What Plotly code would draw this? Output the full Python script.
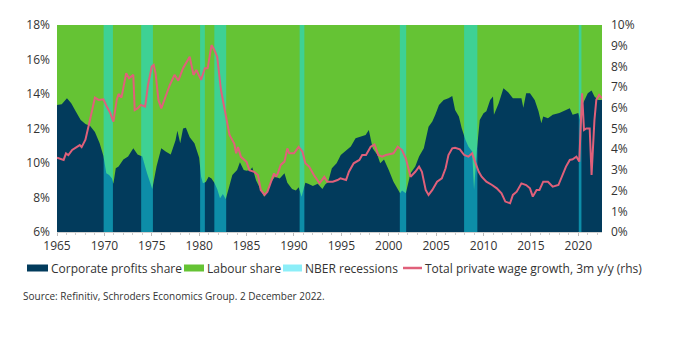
import plotly.graph_objects as go

# Corporate profits share of GDP (%, lhs), by decimal year
profit_dates = [1965.0, 1965.5, 1966.05, 1966.5, 1967.0, 1967.5, 1968.0, 1968.5, 1969.0, 1969.5,
                1969.9, 1970.2, 1970.5, 1970.8, 1970.95, 1971.2, 1971.5, 1972.0, 1972.5, 1973.05,
                1973.5, 1974.0, 1974.5, 1975.05, 1975.5, 1976.0, 1976.5, 1977.0, 1977.5, 1977.7,
                1978.0, 1978.3, 1978.6, 1979.0, 1979.5, 1980.0, 1980.2, 1980.4, 1980.7, 1981.0,
                1981.3, 1981.6, 1981.9, 1982.2, 1982.5, 1982.8, 1983.2, 1983.5, 1984.0, 1984.3,
                1984.7, 1985.0, 1985.4, 1985.6, 1986.0, 1986.5, 1986.85, 1987.2, 1987.6, 1988.0,
                1988.5, 1989.0, 1989.3, 1989.8, 1990.2, 1990.5, 1990.8, 1991.2, 1991.5, 1992.0,
                1992.5, 1993.0, 1993.3, 1993.6, 1994.0, 1994.5, 1994.94, 1996.0, 1996.5, 1997.56,
                1997.9, 1998.3, 1998.8, 1999.1, 1999.5, 2000.0, 2000.5, 2001.2, 2001.4, 2001.8,
                2002.3, 2002.8, 2003.2, 2003.7, 2004.2, 2004.6, 2004.9, 2005.3, 2005.8, 2006.3,
                2006.7, 2007.0, 2007.4, 2007.7, 2008.1, 2008.4, 2008.8, 2009.0, 2009.3, 2009.6,
                2010.0, 2010.3, 2010.7, 2011.0, 2011.1, 2011.6, 2012.1, 2012.6, 2013.1, 2014.0,
                2014.2, 2014.5, 2014.9, 2015.4, 2015.8, 2016.1, 2016.3, 2016.8, 2017.3, 2018.0,
                2018.7, 2019.1, 2019.4, 2020.0, 2020.3, 2020.5, 2021.0, 2021.4, 2021.7, 2022.1,
                2022.5]
profit_share = [13.36, 13.4, 13.75, 13.46, 12.97, 12.5, 12.26, 12.14, 11.8, 11.15,
                10.4, 9.4, 9.3, 9.1, 8.8, 9.7, 9.8, 10.2, 10.37, 10.85,
                10.5, 10.37, 9.4, 8.5, 9.8, 10.85, 10.65, 10.5, 11.3, 11.87,
                11.15, 12.0, 12.05, 11.5, 11.15, 10.3, 9.2, 8.83, 8.9, 9.2,
                9.1, 8.85, 8.5, 7.95, 8.2, 7.9, 8.7, 9.3, 9.6, 10.04,
                9.6, 9.55, 9.6, 9.75, 9.0, 8.43, 8.05, 8.3, 8.9, 9.2,
                9.1, 9.4, 8.85, 8.5, 8.4, 8.6, 8.05, 8.85, 8.8, 8.67,
                8.8, 8.5, 8.75, 8.9, 9.7, 9.99, 10.46, 10.95, 11.43, 11.62,
                11.91, 10.85, 10.46, 9.98, 10.2, 9.6, 8.92, 8.24, 8.4, 8.24,
                9.4, 9.79, 10.37, 10.85, 12.1, 12.4, 12.78, 13.36, 13.65, 13.75,
                13.88, 13.07, 12.69, 12.01, 11.33, 10.95, 10.66, 8.43, 10.75, 12.5,
                12.88, 13.0, 13.65, 13.85, 12.8, 13.46, 14.33, 14.1, 13.75, 13.75,
                13.2, 14.04, 14.04, 13.65, 13.0, 12.3, 12.7, 12.6, 12.8, 12.9,
                13.07, 13.17, 12.8, 12.9, 12.25, 13.46, 14.04, 14.2, 13.85, 13.65,
                13.65]

# Total private wage growth, 3m y/y (%, rhs)
wage_dates = [1965.0, 1965.7, 1965.95, 1966.2, 1966.6, 1967.1, 1967.4, 1967.6, 1968.0, 1968.4,
              1968.7, 1969.0, 1969.4, 1969.9, 1970.25, 1970.6, 1970.95, 1971.3, 1971.5, 1971.8,
              1972.3, 1972.6, 1973.05, 1973.2, 1973.5, 1973.85, 1974.3, 1974.6, 1975.0, 1975.2,
              1975.4, 1975.7, 1976.0, 1976.4, 1976.9, 1977.4, 1977.8, 1978.3, 1978.7, 1979.0,
              1979.4, 1979.7, 1980.2, 1980.6, 1980.9, 1981.3, 1981.6, 1981.9, 1982.3, 1982.9,
              1983.2, 1983.7, 1983.9, 1984.1, 1984.4, 1985.0, 1985.3, 1985.8, 1986.2, 1986.5,
              1986.9, 1987.2, 1987.6, 1987.9, 1988.1, 1988.3, 1988.6, 1989.0, 1989.3, 1989.5,
              1990.0, 1990.5, 1990.9, 1991.2, 1991.6, 1992.1, 1992.7, 1993.2, 1993.5, 1994.1,
              1994.6, 1994.9, 1995.5, 1995.8, 1996.3, 1996.9, 1997.2, 1997.6, 1998.1, 1998.5,
              1998.9, 1999.3, 1999.7, 2000.2, 2000.5, 2000.95, 2001.4, 2001.8, 2002.3, 2002.8,
              2003.2, 2003.5, 2003.9, 2004.2, 2004.6, 2005.1, 2005.6, 2006.0, 2006.3, 2006.7,
              2007.0, 2007.5, 2007.96, 2008.4, 2008.8, 2009.1, 2009.5, 2009.8, 2010.3, 2010.9,
              2011.4, 2011.9, 2012.3, 2012.8, 2013.1, 2013.5, 2014.0, 2014.5, 2014.9, 2015.2,
              2015.6, 2015.9, 2016.3, 2016.8, 2017.3, 2017.9, 2018.4, 2018.7, 2019.1, 2019.4,
              2019.8, 2020.1, 2020.4, 2020.6, 2020.85, 2021.2, 2021.4, 2021.7, 2021.9, 2022.2,
              2022.5]
wage_growth = [3.59, 3.48, 3.8, 3.71, 3.96, 4.11, 4.2, 4.1, 4.46, 5.25,
               5.89, 6.49, 6.38, 6.41, 6.06, 5.77, 5.33, 6.38, 6.67, 6.49,
               7.67, 7.43, 7.59, 5.89, 5.97, 6.14, 6.06, 7.1, 7.99, 8.07,
               7.67, 6.38, 5.97, 6.46, 7.1, 7.59, 7.31, 7.91, 8.2, 8.47,
               7.59, 7.83, 7.35, 7.91, 7.91, 9.03, 8.79, 8.47, 6.86, 5.41,
               4.69, 4.27, 3.8, 4.11, 3.63, 3.39, 2.99, 2.91, 2.75, 2.03,
               1.79, 1.95, 2.43, 2.83, 2.67, 2.83, 3.24, 3.4, 4.04, 3.8,
               3.8, 4.11, 3.88, 3.32, 3.16, 2.75, 2.35, 2.67, 2.43, 2.43,
               2.51, 2.59, 2.51, 2.91, 3.32, 3.48, 3.72, 3.72, 4.12, 4.23,
               3.72, 3.64, 3.72, 3.77, 3.8, 4.12, 3.96, 3.56, 2.67, 2.91,
               3.16, 2.91, 2.03, 1.79, 2.03, 2.43, 2.59, 3.08, 3.72, 4.04,
               4.07, 3.99, 3.72, 3.64, 3.8, 3.4, 2.91, 2.67, 2.43, 2.27,
               2.11, 1.87, 1.47, 1.39, 1.79, 1.95, 2.35, 2.27, 2.11, 1.71,
               2.03, 2.03, 2.43, 2.43, 2.19, 2.27, 2.83, 3.16, 3.48, 3.51,
               3.64, 3.4, 6.7, 4.93, 5.0, 5.0, 2.75, 5.4, 6.38, 6.62,
               6.46]

# NBER recession periods (decimal years)
recession_start = [1969.92, 1973.88, 1980.1, 1981.6, 1990.6, 2001.17, 2007.95, 2020.05]
recession_end = [1970.9, 1975.12, 1980.6, 1982.85, 1991.1, 2001.84, 2009.35, 2020.33]

tick_years = list(range(1965, 2021, 5))

NAVY = "#023b5c"
GREEN = "#65c334"
CYAN = "rgba(24,223,244,0.5)"
CYAN_KEY = "#8ceef8"
RED = "#e0607a"
TEXT = "#333333"
FONT = "Open Sans"

X_RANGE = [1965.0, 2022.5]
LEFT_RANGE = [6, 18]
RIGHT_RANGE = [0, 10]

W, H = 679, 339
M_L, M_R, M_T, M_B = 57, 77, 25, 107
PLOT_W = W - M_L - M_R
PLOT_H = H - M_T - M_B


def px_x(px):
    """Page pixel column -> paper x coordinate."""
    return (px - M_L) / PLOT_W


def px_y(py):
    """Page pixel row -> paper y coordinate."""
    return (H - M_B - py) / PLOT_H


# rectangles spanning the full rhs axis height for each recession
rec_x, rec_y = [], []
for s, e in zip(recession_start, recession_end):
    rec_x += [s, s, e, e, s, None]
    rec_y += [RIGHT_RANGE[0], RIGHT_RANGE[1], RIGHT_RANGE[1], RIGHT_RANGE[0], RIGHT_RANGE[0], None]

fig = go.Figure()

fig.add_trace(go.Scatter(
    x=profit_dates, y=profit_share, name="Corporate profits share",
    mode="none", fill="tozeroy", fillcolor=NAVY, yaxis="y",
))
fig.add_trace(go.Scatter(
    x=rec_x, y=rec_y, name="NBER recessions",
    mode="none", fill="toself", fillcolor=CYAN, yaxis="y2", hoverinfo="skip",
))
fig.add_trace(go.Scatter(
    x=wage_dates, y=wage_growth, name="Total private wage growth, 3m y/y (rhs)",
    mode="lines", line=dict(color=RED, width=2), yaxis="y2",
))

# legend row below the axis: (swatch left px, swatch right px, kind, colour, label)
legend_items = [
    (27, 48, "box", NAVY, "Corporate profits share"),
    (184, 204, "box", GREEN, "Labour share"),
    (283, 302, "box", CYAN_KEY, "NBER recessions"),
    (403, 422, "line", RED, "Total private wage growth, 3m y/y (rhs)"),
]
LEGEND_Y = 268

shapes, annotations = [], []
for x0, x1, kind, colour, label in legend_items:
    if kind == "box":
        shapes.append(dict(type="rect", xref="paper", yref="paper",
                           x0=px_x(x0), x1=px_x(x1),
                           y0=px_y(LEGEND_Y + 3.5), y1=px_y(LEGEND_Y - 3.5),
                           fillcolor=colour, line=dict(width=0)))
    else:
        shapes.append(dict(type="line", xref="paper", yref="paper",
                           x0=px_x(x0), x1=px_x(x1),
                           y0=px_y(LEGEND_Y), y1=px_y(LEGEND_Y),
                           line=dict(color=colour, width=2.5)))
    annotations.append(dict(text=label, xref="paper", yref="paper",
                            x=px_x(x1 + 1), y=px_y(LEGEND_Y),
                            xanchor="left", yanchor="middle", showarrow=False,
                            font=dict(family=FONT, size=12, color=TEXT)))

annotations.append(dict(
    text="Source: Refinitiv, Schroders Economics Group. 2 December 2022.",
    xref="paper", yref="paper", x=px_x(21), y=px_y(296),
    xanchor="left", yanchor="middle", showarrow=False,
    font=dict(family=FONT, size=10, color=TEXT),
))

fig.update_layout(
    width=W, height=H,
    margin=dict(l=M_L, r=M_R, t=M_T, b=M_B, autoexpand=False),
    paper_bgcolor="white",
    plot_bgcolor=GREEN,
    font=dict(family=FONT, size=12, color=TEXT),
    showlegend=False,
    xaxis=dict(
        range=X_RANGE, tickvals=tick_years, showgrid=False, zeroline=False,
        ticks="outside", ticklen=3, tickcolor="#bbbbbb",
        minor=dict(dtick=1, ticks="outside", ticklen=2, tickcolor="#cccccc"),
        showline=True, linecolor="#d0d0d0", linewidth=1,
        tickfont=dict(size=12, color=TEXT),
    ),
    yaxis=dict(
        range=LEFT_RANGE, dtick=2, ticksuffix="%", showgrid=False, zeroline=False,
        tickfont=dict(size=12, color=TEXT), ticklabelstandoff=6,
    ),
    yaxis2=dict(
        range=RIGHT_RANGE, dtick=1, ticksuffix="%", showgrid=False, zeroline=False,
        overlaying="y", side="right",
        tickfont=dict(size=12, color=TEXT), ticklabelstandoff=8,
    ),
    shapes=shapes,
    annotations=annotations,
)

fig.write_html("out.html")
